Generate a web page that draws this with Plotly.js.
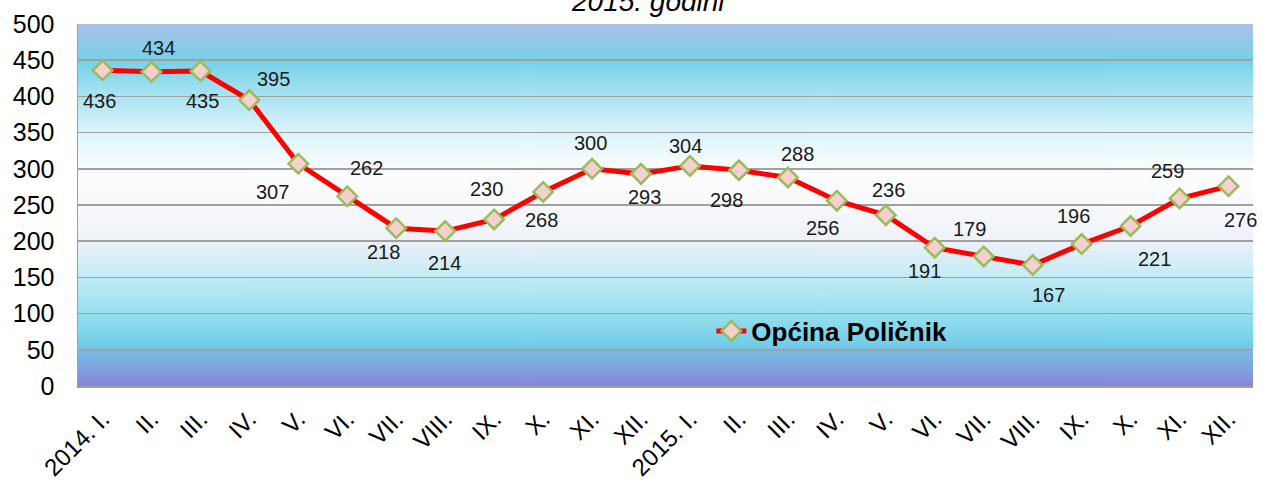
<!DOCTYPE html>
<html>
<head>
<meta charset="utf-8">
<script src="https://cdn.plot.ly/plotly-3.0.1.min.js"></script>
<style>
html,body{margin:0;padding:0;background:#fff;}
#chart{width:1262px;height:483px;}
</style>
</head>
<body>
<div id="chart"></div>
<script>
// ---- data ----
var tickLabels = ["2014. I.","II.","III.","IV.","V.","VI.","VII.","VIII.","IX.","X.","XI.","XII.",
                  "2015. I.","II.","III.","IV.","V.","VI.","VII.","VIII.","IX.","X.","XI.","XII."];
var values = [436,434,435,395,307,262,218,214,230,268,300,293,
              304,298,288,256,236,191,179,167,196,221,259,276];
var seriesName = "Općina Poličnik";
var titleText = "2015. godini";

// ---- styling: label offsets in px (dx, dy; dy positive = down) ----
var labelDx = [-3,7,2,24,-26,19,-13,-1,-8,-2,-2,3,-4,-12,10,-14,3,-10,-14,16,-8,24,-12,12];
var labelDy = [31,-24,30,-21,28,-28,24,32,-30,28,-26,23,-20,30,-23,27,-25,23,-27,30,-28,33,-27,34];

var idx = tickLabels.map(function(_, i){ return i; });

// gradient background image
var cv = document.createElement('canvas');
cv.width = 4; cv.height = 362;
var ctx = cv.getContext('2d');
var g = ctx.createLinearGradient(0,0,0,362);
g.addColorStop(0.00,'#a9c1e7');
g.addColorStop(0.10,'#76d1e8');
g.addColorStop(0.20,'#a9e4f2');
g.addColorStop(0.30,'#dcf3fa');
g.addColorStop(0.40,'#fbfdfe');
g.addColorStop(0.50,'#f8f9fc');
g.addColorStop(0.60,'#edf1f8');
g.addColorStop(0.70,'#c2ebf5');
g.addColorStop(0.80,'#97dfef');
g.addColorStop(0.88,'#74cfe8');
g.addColorStop(0.92,'#79b4e2');
g.addColorStop(1.00,'#8a84d8');
ctx.fillStyle = g;
ctx.fillRect(0,0,4,362);
var bgURL = cv.toDataURL('image/png');

var annotations = values.map(function(v, i){
  return {
    x: idx[i], y: v, xref:'x', yref:'y',
    text: String(v), showarrow:false,
    xshift: labelDx[i], yshift: -labelDy[i],
    font:{family:'Liberation Sans, Arial, sans-serif', size:20, color:'#1a1a1a'}
  };
});
annotations.push({
  xref:'paper', yref:'paper', x:0.4847, y:1, xanchor:'center', yanchor:'bottom',
  yshift:5, showarrow:false, text:'<i>'+titleText+'</i>',
  font:{family:'Liberation Sans, Arial, sans-serif', size:28, color:'#000'}
});

var trace = {
  x: idx, y: values, type:'scatter', mode:'lines+markers', name: seriesName,
  line:{color:'#ff0000', width:5},
  marker:{symbol:'diamond', size:15, color:'#f6cfcf', line:{color:'#9bbb59', width:2.5}},
  cliponaxis:false
};

var layout = {
  width:1262, height:483,
  margin:{l:78, r:9, t:24, b:97},
  paper_bgcolor:'#ffffff',
  plot_bgcolor:'rgba(0,0,0,0)',
  font:{family:'Liberation Sans, Arial, sans-serif', color:'#000'},
  showlegend:true,
  legend:{x:0.539, y:0.152, xanchor:'left', yanchor:'middle', bgcolor:'rgba(0,0,0,0)',
          font:{size:26, color:'#000', weight:'bold', family:'Liberation Sans, Arial, sans-serif'}},
  xaxis:{
    range:[-0.5,23.5], tickvals: idx, ticktext: tickLabels, tickangle:-45,
    showgrid:false, zeroline:false, showline:true, linecolor:'#a0a0a0', linewidth:1.5,
    ticks:'', tickfont:{size:24, color:'#000'}, fixedrange:true, ticklabelstandoff:8
  },
  yaxis:{
    range:[0,500], dtick:50, tick0:0, showgrid:true, gridcolor:'#a0a0a0', gridwidth:1.5,
    zeroline:false, showline:true, linecolor:'#a0a0a0', linewidth:1.5,
    ticks:'', tickfont:{size:25, color:'#000'}, ticklabelstandoff:17, fixedrange:true
  },
  images:[{source:bgURL, xref:'paper', yref:'paper', x:0, y:1, sizex:1, sizey:1,
           sizing:'stretch', xanchor:'left', yanchor:'top', layer:'below'}],
  annotations: annotations
};

Plotly.newPlot('chart', [trace], layout, {displayModeBar:false, staticPlot:true});
</script>
</body>
</html>
